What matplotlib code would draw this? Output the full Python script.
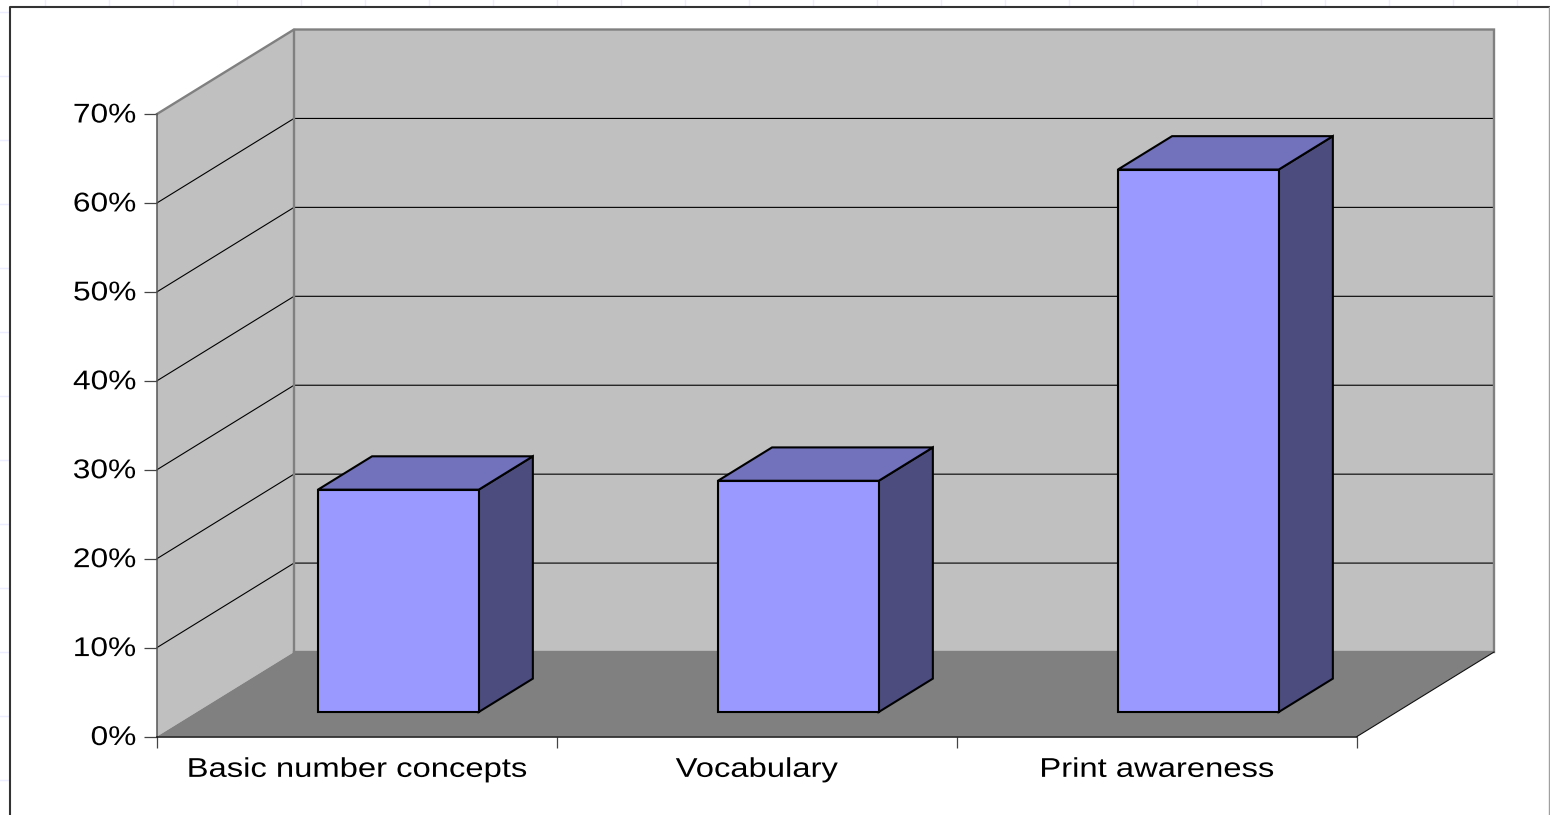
import matplotlib
matplotlib.use('Agg')
import matplotlib.pyplot as plt
from matplotlib.lines import Line2D
from matplotlib.patches import Polygon
from matplotlib.patheffects import AbstractPathEffect
from matplotlib.ticker import FixedLocator, FuncFormatter, NullFormatter
from matplotlib.transforms import Affine2D
import numpy as np

categories = ['Basic number concepts', 'Vocabulary', 'Print awareness']
values = [25, 26, 61]
y_ticks = [0, 10, 20, 30, 40, 50, 60, 70]

W, H = 1550, 815
WALL = '#c0c0c0'
FLOOR = '#808080'
EDGE = '#808080'
FRONT = '#9999ff'
TOP = '#7272bc'
SIDE = '#4c4c7f'

# oblique depth of the box: shift per unit depth in x (categories) and y (percent)
DEPTH_X = 0.3425
DEPTH_Y = 9.5

# depth range and footprint of the columns
BAR_D0, BAR_D1 = 0.29, 0.685
BAR_LEFT = 0.303
BAR_W = 0.402

LABEL_SIZE = 19.5


class WideText(AbstractPathEffect):
    # stretches the glyphs sideways, keeping the anchor of the label in place
    def __init__(self, sx, anchor='center', dy=0.0):
        super().__init__()
        self.sx = sx
        self.anchor = anchor
        self.dy = dy

    def draw_path(self, renderer, gc, tpath, affine, rgbFace=None):
        x0, x1 = tpath.vertices[:, 0].min(), tpath.vertices[:, 0].max()
        xa = x1 if self.anchor == 'right' else (x0 + x1) / 2
        tr = Affine2D().translate(-xa, 0).scale(self.sx, 1).translate(xa, 0)
        renderer.draw_path(gc, tpath, tr + affine + Affine2D().translate(0, self.dy), rgbFace)


def proj(x, y, d=0.0):
    return x + DEPTH_X * d, y + DEPTH_Y * d


def face(ax, pts, color, **kw):
    p = Polygon([proj(*q) for q in pts], closed=True, facecolor=color, clip_on=False, **kw)
    ax.add_patch(p)
    return p


def fig_line(fig, xs, ys, color, lw, **kw):
    xs = np.array(xs) / W
    ys = 1 - np.array(ys) / H
    fig.add_artist(Line2D(xs, ys, color=color, linewidth=lw, transform=fig.transFigure, **kw))


fig = plt.figure(figsize=(W / 100, H / 100), dpi=100)
plt.rcParams['font.family'] = ['Liberation Sans', 'DejaVu Sans']

# faint sheet grid showing around the chart frame
for x in np.arange(45, W, 64):
    fig_line(fig, [x, x], [0, 5], '#eceeff', 1)
for y in np.arange(12, H, 64):
    fig_line(fig, [0, 9], [y, y], '#eceeff', 1)

# frame is open at the bottom
fig_line(fig, [10, 10, 1549], [815, 6.5, 6.5], '#333333', 1.5)
fig_line(fig, [1549, 1549], [6.5, 815], '#a0a0a0', 1)

ax = fig.add_axes([157 / W, 1 - 736.5 / H, 1200 / W, 622.5 / H])
ax.set_xlim(0, 3)
ax.set_ylim(0, 70)
ax.patch.set_visible(False)
for s in ['top', 'right']:
    ax.spines[s].set_visible(False)
ax.spines['left'].set_color('#555555')
ax.spines['left'].set_linewidth(1.1)
ax.spines['bottom'].set_color('#111111')
ax.spines['bottom'].set_linewidth(1.1)

# walls and floor
ymax = y_ticks[-1]
face(ax, [(0, 0, 0), (0, ymax, 0), (0, ymax, 1), (0, 0, 1)], WALL, edgecolor='none', zorder=1)
face(ax, [(0, 0, 1), (0, ymax, 1), (3, ymax, 1), (3, 0, 1)], WALL, edgecolor='none', zorder=1)
face(ax, [(0, 0, 0), (3, 0, 0), (3, 0, 1), (0, 0, 1)], FLOOR, edgecolor='none', zorder=1.5)

# gridlines run along the side wall and across the back wall
for v in y_ticks[1:-1]:
    xs, ys = zip(proj(0, v, 0), proj(0, v, 1), proj(3, v, 1))
    ax.plot(xs, ys, color='black', lw=0.8, zorder=2, clip_on=False)

# wall outlines
xs, ys = zip(proj(0, ymax, 0), proj(0, ymax, 1), proj(3, ymax, 1), proj(3, 0, 1), proj(0, 0, 1))
ax.plot(xs, ys, color=EDGE, lw=1.7, zorder=2.5, clip_on=False, solid_joinstyle='miter')
xs, ys = zip(proj(0, ymax, 1), proj(0, 0, 1))
ax.plot(xs, ys, color=EDGE, lw=1.7, zorder=2.5, clip_on=False)
xs, ys = zip(proj(3, 0, 0), proj(3, 0, 1))
ax.plot(xs, ys, color='#111111', lw=0.8, zorder=2.5, clip_on=False)

# columns
for i, v in enumerate(values):
    x0 = i + BAR_LEFT
    x1 = x0 + BAR_W
    style = dict(edgecolor='black', linewidth=1.5, joinstyle='miter', zorder=3 + i)
    face(ax, [(x1, 0, BAR_D0), (x1, v, BAR_D0), (x1, v, BAR_D1), (x1, 0, BAR_D1)], SIDE, **style)
    face(ax, [(x0, v, BAR_D0), (x1, v, BAR_D0), (x1, v, BAR_D1), (x0, v, BAR_D1)], TOP, **style)
    face(ax, [(x0, 0, BAR_D0), (x1, 0, BAR_D0), (x1, v, BAR_D0), (x0, v, BAR_D0)], FRONT, **style)

# ticks
ax.set_yticks(y_ticks)
ax.yaxis.set_major_formatter(FuncFormatter(lambda v, _: '%d%%' % v))
ax.tick_params(axis='y', length=9.4, width=0.9, color='#444444', pad=5.5, labelsize=LABEL_SIZE)
ax.set_xticks([i + 0.5 for i in range(len(categories))])
ax.set_xticklabels(categories)
ax.xaxis.set_minor_locator(FixedLocator(range(len(categories) + 1)))
ax.xaxis.set_minor_formatter(NullFormatter())
ax.tick_params(axis='x', which='major', length=0, pad=15, labelsize=LABEL_SIZE)
ax.tick_params(axis='x', which='minor', length=8, width=0.9, color='#444444')
for lab in ax.get_xticklabels():
    lab.set_family(['Liberation Sans', 'DejaVu Sans'])
    lab.set_path_effects([WideText(1.21, 'center', dy=0.5)])
for lab in ax.get_yticklabels():
    lab.set_family(['Liberation Sans', 'DejaVu Sans'])
    lab.set_path_effects([WideText(1.17, 'right', dy=1.5)])

fig.savefig('out.png', dpi=100)
